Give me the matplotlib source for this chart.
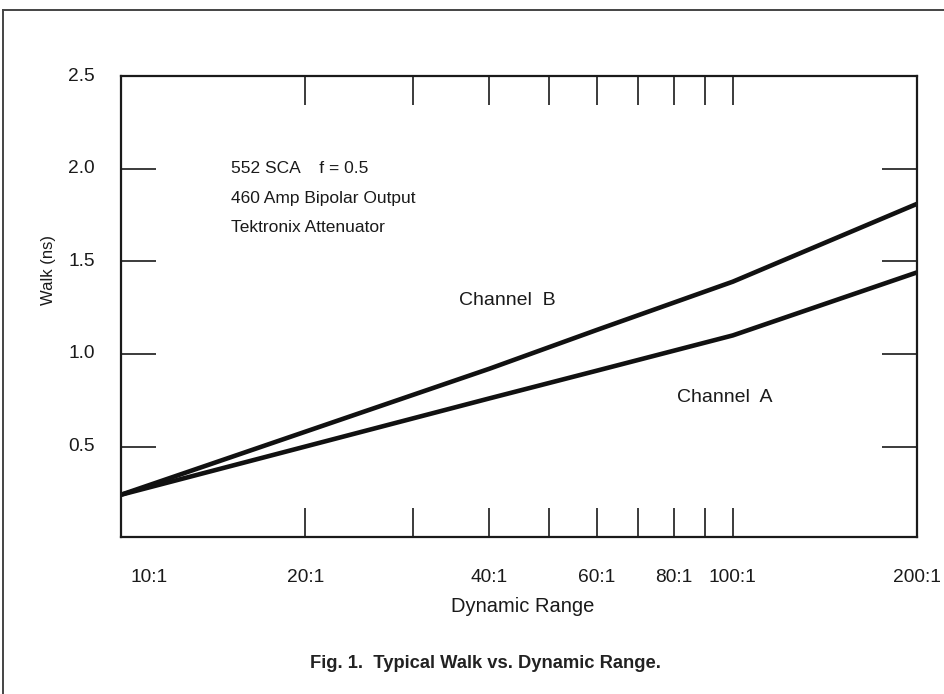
import matplotlib
matplotlib.use("Agg")
import matplotlib.pyplot as plt
from matplotlib.lines import Line2D
from matplotlib.ticker import FixedLocator, NullLocator

plt.rcParams['font.family'] = ['Liberation Sans', 'DejaVu Sans']

# ---- data ----
dyn_range = [10, 20, 40, 60, 100, 200]
walk_b = [0.24, 0.58, 0.92, 1.13, 1.39, 1.81]
walk_a = [0.24, 0.50, 0.76, 0.91, 1.10, 1.44]

minor_ticks = [20, 30, 40, 50, 60, 70, 80, 90, 100]
x_label_pos = [20, 40, 60, 80, 100, 200]
x_label_txt = ['20:1', '40:1', '60:1', '80:1', '100:1', '200:1']
first_label = (10, '10:1')
y_ticks = [0.5, 1.0, 1.5, 2.0]
y_label_pos = [0.5, 1.0, 1.5, 2.0, 2.5]
y_label_txt = ['0.5', '1.0', '1.5', '2.0', '2.5']

notes = ['552 SCA    f = 0.5', '460 Amp Bipolar Output', 'Tektronix Attenuator']
note_y = [2.0, 1.84, 1.68]
note_x = 15.1

fig = plt.figure(figsize=(9.44, 6.94), dpi=100)
ax = fig.add_axes([121/944, 1 - 537/694, (917-121)/944, (537-76)/694])

ax.plot(dyn_range, walk_b, color='#111111', lw=3.3, solid_capstyle='butt')
ax.plot(dyn_range, walk_a, color='#111111', lw=3.3, solid_capstyle='butt')

ax.set_xscale('log')
ax.set_xlim(10, 200)
ax.set_ylim(0.012, 2.5)

for s in ax.spines.values():
    s.set_linewidth(1.6)
    s.set_color('#1a1a1a')

# x ticks: inward on top and bottom, labels separately
ax.xaxis.set_major_locator(FixedLocator(minor_ticks))
ax.xaxis.set_minor_locator(NullLocator())
ax.set_xticklabels([])
ax.tick_params(axis='x', which='major', direction='in', length=21, width=1.2,
               top=True, bottom=True, color='#1a1a1a')

tick_fs = 13.8
for xp, tx in zip(x_label_pos, x_label_txt):
    ax.annotate(tx, xy=(xp, 0), xycoords=('data', 'axes fraction'),
                xytext=(0, -41), textcoords='offset pixels',
                ha='center', va='center', fontsize=tick_fs, color='#1a1a1a')
ax.annotate(first_label[1], xy=(first_label[0], 0), xycoords=('data', 'axes fraction'),
            xytext=(28, -41), textcoords='offset pixels',
            ha='center', va='center', fontsize=tick_fs, color='#1a1a1a')

# y ticks
ax.yaxis.set_major_locator(FixedLocator(y_ticks))
ax.yaxis.set_minor_locator(NullLocator())
ax.set_yticklabels([])
ax.tick_params(axis='y', which='major', direction='in', length=25, width=1.2,
               left=True, right=True, color='#1a1a1a')
for yp, ty in zip(y_label_pos, y_label_txt):
    ax.annotate(ty, xy=(0, yp), xycoords=('axes fraction', 'data'),
                xytext=(-26, 0), textcoords='offset pixels',
                ha='right', va='center', fontsize=tick_fs, color='#1a1a1a')

ax.set_xlabel('Dynamic Range', fontsize=14.5, color='#1a1a1a')
ax.xaxis.set_label_coords(0.505, -(606 - 537) / 461)
ax.xaxis.label.set_va('center')
ax.set_ylabel('Walk (ns)', fontsize=12, color='#1a1a1a')
ax.yaxis.set_label_coords((48 - 121) / 796, (537 - 270) / 461)
ax.yaxis.label.set_va('center')

for t, yv in zip(notes, note_y):
    ax.text(note_x, yv, t, ha='left', va='center', fontsize=12.5, color='#1a1a1a')

ax.text(35.7, 1.29, 'Channel  B', ha='left', va='center', fontsize=14, color='#1a1a1a')
ax.text(81.2, 0.765, 'Channel  A', ha='left', va='center', fontsize=14, color='#1a1a1a')

fig.text(485/944, 1 - 663/694, 'Fig. 1.  Typical Walk vs. Dynamic Range.',
         ha='center', va='center', fontsize=13.2, fontweight='bold', color='#222222')

# page frame (top and left edges)
fig.add_artist(Line2D([3/944, 1.0], [1 - 9.5/694, 1 - 9.5/694], transform=fig.transFigure,
                      color='#444444', lw=1.4))
fig.add_artist(Line2D([3/944, 3/944], [0, 1 - 9.5/694], transform=fig.transFigure,
                      color='#444444', lw=1.4))

fig.savefig('out.png', dpi=100)
